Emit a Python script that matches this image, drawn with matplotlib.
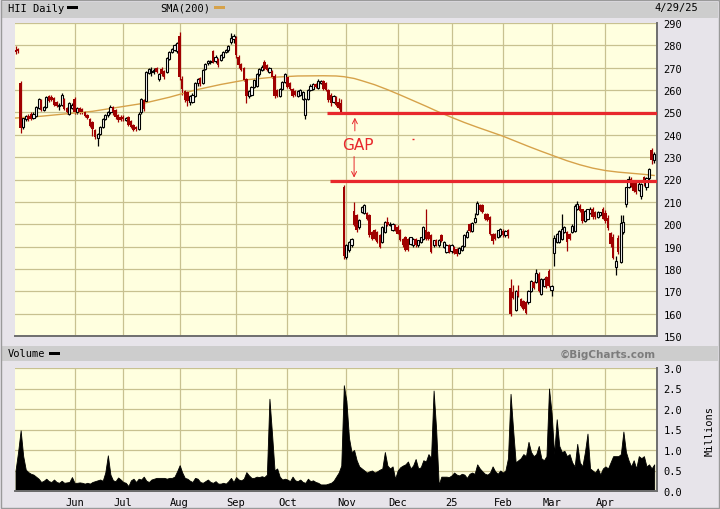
import numpy as np
import pandas as pd
import matplotlib
matplotlib.use("Agg")
import matplotlib.pyplot as plt
from matplotlib.patches import Rectangle

# trading calendar 4/30/24 - 4/29/25 (NYSE holidays removed)
holidays = ["2024-05-27", "2024-06-19", "2024-07-04", "2024-09-02", "2024-11-28",
            "2024-12-25", "2025-01-01", "2025-01-09", "2025-01-20", "2025-02-17",
            "2025-04-18"]
days = pd.bdate_range("2024-04-30", "2025-04-29")
days = days[~days.isin(pd.to_datetime(holidays))]

month_names = {6: "Jun", 7: "Jul", 8: "Aug", 9: "Sep", 10: "Oct", 11: "Nov",
               12: "Dec", 1: "25", 2: "Feb", 3: "Mar", 4: "Apr"}

# daily OHLC (one row per month)
opens = [
    278, 278.5, 263, 243.5, 247, 248.5, 249.5, 247.5, 248.5, 252, 255.5, 251, 252.5, 257.5, 257, 256.5, 254.5, 253, 253.5, 256, 252, 249.5, 252,
    256, 250, 252, 251.5, 250, 249, 247, 245.5, 242, 238.5, 240.5, 243.5, 247, 249, 250, 252.5, 251, 249, 248,
    248, 246.5, 248, 246, 244.5, 243.5, 242.5, 250, 255.5, 255, 267.5, 268, 268.5, 270, 265, 269.5, 268.5, 268, 274, 277, 278, 277.5,
    284, 265, 259.5, 259, 254.5, 254.5, 257.5, 263, 265.5, 263, 269.5, 272, 272.5, 277.5, 273, 274, 273.5, 275, 277, 278, 281.5, 283,
    283.5, 275, 271.5, 270, 265, 257.5, 258, 261.5, 262, 267, 269, 272.5, 271, 268, 268.5, 266.5, 260, 257.5, 260.5, 263.5,
    266, 263, 260.5, 259.5, 257.5, 258, 256, 249, 256, 260, 260.5, 262.5, 261, 263, 264, 263, 260, 258, 254.5, 257, 254.5, 254, 216.5,
    185.5, 188.5, 190.5, 206, 204, 198.8, 205.5, 204.8, 204.8, 204, 196.5, 197.3, 196.5, 195, 192, 196.5, 201, 199.5, 197.3, 199.5,
    198.8, 197.3, 193.5, 194.3, 193.5, 191, 190.6, 193.5, 190.6, 192, 193.5, 197.3, 196.5, 195, 190.6, 192.8, 190.6, 195, 190, 187.6, 190.6,
    187.8, 189.8, 189, 187.3, 188.3, 190.4, 194.3, 200, 197, 201, 204.6, 208.5, 208.5, 204.6, 204.6, 203.1, 195.6, 195.6, 194.5, 195,
    197, 195, 197.5, 171.5, 169.5, 161.5, 170, 166.5, 165.5, 165, 165, 170.2, 174, 174, 177.7, 168.7, 172.5, 176.5, 179,
    170.5, 187, 192, 192, 193.5, 196.5, 196.5, 195.6, 196.4, 197, 206.8, 208.3, 206.8, 201.6, 202.5, 204.8, 206.8, 205.3, 203.1, 203.9, 206.8,
    205, 203, 196, 194.5, 181, 194, 183, 196.5, 209, 216.5, 220.3, 219.5, 218.5, 215.5, 212.5, 221, 216.5, 220.5, 233, 228.5,
]
highs = [
    279.5, 279, 264, 248, 249, 249.5, 250, 250, 253, 256.5, 256, 253, 257.5, 258, 258, 257, 255, 254, 258.5, 256.5, 252.5, 254.5, 254,
    257, 252.5, 252.5, 252, 250.5, 249.5, 247.5, 246, 242.5, 241, 244, 247.5, 249.5, 250.5, 253.5, 253, 251.5, 249.5, 249,
    249, 248, 248.5, 246.5, 245, 244, 250, 256.5, 256, 268.5, 270, 270.5, 270, 270.5, 267.5, 270.5, 269, 275, 277.5, 279, 280.5, 281.5,
    286, 266.5, 260, 259.5, 258, 258.5, 263.5, 265.5, 266, 269.5, 272, 273.5, 273.5, 278, 275.5, 274.5, 276, 277.5, 278.5, 280, 285.5, 285,
    284, 275.5, 272, 270.5, 265.5, 260, 262, 265, 267.5, 270, 271, 273.5, 271.5, 270.5, 269, 267, 260.5, 261, 264, 267.5,
    266.5, 263.5, 261, 260, 260, 260.5, 259.5, 256.5, 260.5, 262.5, 263, 263, 265, 264.5, 264.5, 263.5, 260.5, 258.5, 258, 257.5, 256.5, 256, 217.5,
    191, 192.5, 194, 210, 204.5, 202.5, 208, 209, 205.5, 204.5, 197, 198, 197, 195.5, 199, 201.5, 203.3, 201, 200.5, 200,
    199.5, 197.8, 194, 194.8, 194, 194.5, 194, 194, 193, 194.5, 199, 207, 197, 195.5, 193, 193.5, 193.2, 195.5, 192.5, 191, 191,
    191, 190.2, 189.5, 189.8, 190.5, 195.5, 197.5, 200.5, 201, 205, 210.5, 209, 209, 205, 205, 203.5, 196, 196, 197.5, 198.5,
    198, 197.5, 198, 175.5, 173, 170.5, 173, 167, 166, 165.5, 170.5, 175, 174.5, 180, 178.5, 176, 176, 177, 180,
    173, 195, 196, 197.5, 204.5, 199, 197, 196, 200, 209, 210.6, 209, 207, 206.5, 207, 207.5, 207.5, 205.8, 206, 205.5, 207.5,
    206.5, 204, 196.5, 195.5, 186, 195, 204, 204, 216.8, 221.5, 221, 220, 219.5, 219, 218.5, 221.5, 221, 225, 234, 232.5,
]
lows = [
    276, 276.5, 241, 242.5, 246, 246, 246.5, 247, 248, 251.5, 250.5, 250.5, 252, 254.5, 255, 253, 252.5, 251, 253, 251, 249.5, 249, 251.5,
    249.5, 249.5, 249.5, 249.5, 248, 247, 243.5, 239.5, 238, 235, 240, 243, 246.5, 248, 249.5, 249, 247, 245.5, 246,
    246, 246, 244, 243, 241.5, 241.5, 242, 249.5, 250.5, 254.5, 267, 266.5, 267, 267.5, 264, 266.5, 265, 267.5, 273.5, 276.5, 277.5, 276.5,
    264.5, 258, 254.5, 253, 253.5, 254, 257, 262, 262, 262.5, 269, 271, 271.5, 272, 272, 270.5, 273, 274.5, 276.5, 277, 280.5, 281,
    274.5, 270, 268.5, 264, 254, 256.5, 257.5, 261, 261.5, 266.5, 268.5, 269, 268.5, 267.5, 265.5, 256.5, 257, 257, 260, 263,
    261, 260, 257, 257.5, 257, 257.5, 255.5, 247, 255.5, 259.5, 260, 261, 260.5, 262.5, 260, 259.5, 254.5, 253, 254, 253, 251.5, 249.5, 184.5,
    184.5, 187.5, 190, 199, 196.5, 198, 205, 204.5, 202, 194.5, 193, 193, 191.5, 189.5, 191.5, 196, 199, 199, 197, 197,
    195.5, 192.5, 190, 187.8, 188, 190.5, 190, 190, 190, 191.5, 193, 193, 193, 187, 190, 190.2, 190, 192, 189.5, 187, 187,
    187.3, 186.5, 186, 186.8, 187.8, 190, 194, 196.5, 196.5, 200.5, 204, 206, 205, 202, 201.5, 195, 191, 193, 194, 194.5,
    194.5, 194.5, 194, 159, 166.5, 161, 167.5, 163, 161.5, 159.8, 164.5, 169.5, 171, 173.5, 169.5, 168.2, 172, 171.5, 172,
    168, 181.5, 191.5, 191.5, 193, 196, 188, 193, 196, 196.5, 206.5, 205.5, 200.5, 201, 202, 204.5, 202.5, 202.5, 202.8, 203.5, 202.3,
    200.5, 197.5, 190, 184.5, 177.5, 186.5, 182.5, 195.5, 207.5, 216, 216.5, 214.5, 213.5, 215, 211.5, 217, 215.5, 219.5, 227, 227.5,
]
closes = [
    277, 277.5, 243, 247.5, 248.5, 247, 247, 249.5, 252.5, 256, 251, 252.5, 257, 255, 255.5, 253.5, 253, 253.5, 258, 251.5, 250, 254, 253.5,
    250, 252, 250, 250, 248.5, 247.5, 244, 242.5, 239, 240.5, 243.5, 247, 249, 250, 252.5, 250, 248, 246.5, 246.5,
    247, 247.5, 244.5, 243.5, 242, 242.5, 249.5, 256, 251.5, 268, 269.5, 268.5, 269, 268, 267, 267, 266, 274.5, 277, 278.5, 280, 281,
    266, 260.5, 255.5, 255, 257.5, 258, 263, 265, 262.5, 269, 271.5, 273, 273, 272.5, 275, 271, 275.5, 277, 278, 279.5, 283.5, 284,
    275.5, 271, 269, 264.5, 257.5, 259.5, 261.5, 264.5, 267, 269.5, 270.5, 269.5, 269, 270, 266, 257.5, 257.5, 260.5, 263.5, 267,
    261.5, 260.5, 257.5, 258, 259.5, 260, 259, 256, 260, 262, 262.5, 261.5, 264, 264, 260.5, 260, 255.5, 254, 257.5, 253.5, 252, 250, 186,
    190.5, 192, 193.5, 199.5, 197.3, 202, 207.7, 208.5, 202.5, 195, 193.5, 193.5, 192, 190, 198.8, 201, 199.5, 200.3, 200.3, 197.3,
    195.8, 192.8, 190.6, 188.3, 188.3, 194.3, 193.5, 190.6, 192.8, 194.3, 198.8, 193.5, 193.5, 187.6, 192.8, 190.6, 192.8, 192.5, 192, 190.6, 187.6,
    190.6, 187, 186.8, 189.5, 190.3, 195, 196.5, 197, 200.5, 203, 209.5, 206.3, 205.5, 202.4, 202, 195.6, 192.6, 193.5, 197.3, 197.8,
    195, 197, 195, 160, 167, 170, 168, 163.5, 162, 160.5, 170.2, 174.7, 171.5, 178.4, 170.2, 175.5, 175.5, 172.5, 172.5,
    172.5, 194, 195.6, 197, 198, 198.7, 192, 193.5, 199.4, 208.3, 209, 206, 201.6, 206, 206.8, 206.8, 203.1, 203.1, 205.6, 205.3, 202.4,
    201.5, 198.5, 191, 185, 183.5, 187.5, 200.5, 201, 216.5, 220.3, 217.3, 215, 214.3, 218, 218, 219.5, 220.5, 224.8, 228.5, 231.5,
]

# volume, millions of shares
volume = [
    0.50, 0.95, 1.48, 0.85, 0.52, 0.46, 0.42, 0.40, 0.35, 0.30, 0.22, 0.25, 0.30, 0.24, 0.22, 0.28, 0.22, 0.20, 0.25, 0.20, 0.21, 0.22, 0.34,
    0.20, 0.20, 0.21, 0.20, 0.18, 0.20, 0.18, 0.22, 0.24, 0.26, 0.28, 0.25, 0.45, 0.87, 0.40, 0.26, 0.24, 0.33, 0.28,
    0.22, 0.20, 0.12, 0.26, 0.30, 0.22, 0.30, 0.28, 0.35, 0.25, 0.22, 0.28, 0.30, 0.32, 0.32, 0.32, 0.32, 0.30, 0.32, 0.32, 0.35, 0.48,
    0.63, 0.45, 0.32, 0.30, 0.25, 0.22, 0.32, 0.30, 0.22, 0.20, 0.24, 0.28, 0.22, 0.20, 0.24, 0.18, 0.18, 0.20, 0.18, 0.24, 0.32, 0.22,
    0.34, 0.28, 0.26, 0.30, 0.46, 0.38, 0.32, 0.32, 0.35, 0.34, 0.36, 0.34, 0.40, 2.25, 1.40, 0.50, 0.55, 0.35, 0.28, 0.30,
    0.28, 0.24, 0.35, 0.26, 0.24, 0.28, 0.22, 0.20, 0.30, 0.24, 0.26, 0.22, 0.20, 0.16, 0.16, 0.16, 0.18, 0.20, 0.25, 0.35, 0.45, 0.62, 2.58,
    2.20, 1.30, 0.95, 1.00, 0.75, 0.60, 0.55, 0.50, 0.45, 0.48, 0.50, 0.45, 0.48, 0.52, 0.55, 0.95, 0.62, 0.55, 0.60, 0.30,
    0.50, 0.58, 0.62, 0.65, 0.72, 0.55, 0.62, 0.78, 0.55, 0.58, 0.75, 0.72, 0.90, 0.80, 2.45, 1.50, 0.15, 0.35, 0.35, 0.35, 0.34,
    0.38, 0.45, 0.40, 0.38, 0.42, 0.40, 0.32, 0.42, 0.45, 0.42, 0.65, 0.55, 0.48, 0.42, 0.40, 0.45, 0.60, 0.48, 0.42, 0.50,
    0.45, 0.50, 0.80, 2.37, 1.50, 0.70, 0.75, 0.80, 0.90, 0.85, 1.20, 0.95, 0.85, 0.90, 1.10, 0.80, 0.75, 0.85, 2.50,
    1.90, 0.90, 1.75, 1.10, 0.95, 0.98, 0.85, 0.90, 0.70, 0.60, 1.15, 0.70, 0.60, 0.95, 1.40, 0.55, 0.50, 0.45, 0.55, 0.40, 0.55,
    0.60, 0.55, 0.70, 0.85, 0.85, 0.85, 0.90, 1.45, 0.95, 0.75, 0.60, 0.75, 0.55, 0.85, 0.80, 0.85, 0.60, 0.65, 0.55, 0.65,
]

# 200-day SMA, read at trading-day positions along the curve
sma_idx = [0, 10, 20, 30, 40, 50, 60, 70, 80, 90, 100, 110, 120, 125, 128, 132, 135,
           140, 145, 150, 155, 160, 165, 170, 175, 180, 185, 190, 195, 200, 205, 210,
           215, 220, 225, 230, 235, 240, 245, 249]
sma_val = [247.5, 248.3, 249.4, 250.5, 252.3, 254.1, 256.8, 260.0, 262.5, 264.6, 265.7,
           266.3, 266.4, 266.3, 266.0, 265.2, 264.2, 262.4, 260.2, 257.8, 255.3, 252.8,
           250.2, 247.8, 245.5, 243.4, 241.4, 239.4, 237.1, 234.8, 232.6, 230.5, 228.4,
           226.6, 225.1, 224.0, 223.3, 222.8, 222.3, 221.8]

# gap annotation drawn on the chart
gap_top, gap_bottom = 249.7, 219.2
gap_top_start, gap_bottom_start = 121.4, 122.6
gap_arrow_x = 132.3

assert len(days) == len(opens) == len(highs) == len(lows) == len(closes) == len(volume)

BG = "#e7e4ea"
PLOT_BG = "#ffffdf"
GRID = "#c8c190"
CANDLE_RED = "#a00000"
GAP_RED = "#e8282c"
SMA_COLOR = "#d6a24a"
FRAME = "#6e6e6e"
MONO = "DejaVu Sans Mono"

x = np.arange(len(days))
o, h, l, c = map(np.array, (opens, highs, lows, closes))
vol = np.array(volume)
xlim = (-0.2, len(days) + 0.1)

month_pos = [i for i in range(1, len(days))
             if days[i].month != days[i - 1].month and days[i].month in month_names]
month_lab = [month_names[days[i].month] for i in month_pos]

fig = plt.figure(figsize=(7.2, 5.1), dpi=100)
fig.patch.set_facecolor(BG)

# header bands
fig.add_artist(Rectangle((0.003, 1 - 19 / 510), 0.994, 16 / 510, transform=fig.transFigure,
                         facecolor="#cdcdcd", edgecolor="none"))
fig.add_artist(Rectangle((0.003, 1 - 362 / 510), 0.994, 15 / 510, transform=fig.transFigure,
                         facecolor="#cdcdcd", edgecolor="none"))
fig.add_artist(Rectangle((0.001, 0.002), 0.997, 0.996, transform=fig.transFigure,
                         facecolor="none", edgecolor="#9a9a9a", lw=1))

fig.text(8 / 720, 1 - 8.5 / 510, "HII Daily", fontsize=7.5, family=MONO, va="center")
fig.add_artist(Rectangle((67 / 720, 1 - 10 / 510), 11 / 720, 3 / 510, transform=fig.transFigure,
                         facecolor="black", edgecolor="none"))
fig.text(160 / 720, 1 - 8.5 / 510, "SMA(200)", fontsize=7.5, family=MONO, va="center")
fig.add_artist(Rectangle((214 / 720, 1 - 10 / 510), 11 / 720, 3 / 510, transform=fig.transFigure,
                         facecolor=SMA_COLOR, edgecolor="none"))
fig.text(698 / 720, 1 - 8 / 510, "4/29/25", fontsize=7.5, family=MONO, va="center", ha="right")
fig.text(8 / 720, 1 - 354.5 / 510, "Volume", fontsize=7.5, family=MONO, va="center")
fig.add_artist(Rectangle((49 / 720, 1 - 356 / 510), 11 / 720, 3 / 510, transform=fig.transFigure,
                         facecolor="black", edgecolor="none"))
fig.text(656 / 720, 1 - 354.5 / 510, "\u00a9BigCharts.com", fontsize=7.5, fontweight="bold",
         color="#7c7c7c", va="center", ha="right")
fig.text(710 / 720, 1 - 431 / 510, "Millions", fontsize=7.5, family=MONO, rotation=90,
         va="center", ha="center")


def style_axes(ax):
    ax.set_facecolor(PLOT_BG)
    ax.set_xlim(*xlim)
    ax.set_xticks(month_pos)
    ax.grid(True, color=GRID, lw=0.9)
    ax.set_axisbelow(True)
    ax.yaxis.tick_right()
    ax.tick_params(length=0, labelsize=7.5, pad=4.5)
    for side in ("left", "top"):
        ax.spines[side].set_visible(False)
    for side in ("right", "bottom"):
        ax.spines[side].set_color(FRAME)
        ax.spines[side].set_linewidth(1.4)


# ---- price panel ----
ax = fig.add_axes([15 / 720, 173 / 510, 642 / 720, 313 / 510])
ax.set_ylim(150, 290)
ax.set_yticks(np.arange(150, 291, 10))
style_axes(ax)
ax.set_xticklabels([])
for lab in ax.get_yticklabels():
    lab.set_family(MONO)

up = c >= o
dn = ~up
ax.vlines(x[up], l[up], h[up], color="black", lw=0.9, zorder=2)
ax.vlines(x[dn], l[dn], h[dn], color=CANDLE_RED, lw=0.9, zorder=2)
ax.bar(x[up], np.maximum(c - o, 0.4)[up], bottom=o[up], width=0.85,
       facecolor="white", edgecolor="black", lw=0.8, zorder=3)
ax.bar(x[dn], np.maximum(o - c, 0.4)[dn], bottom=c[dn], width=0.95, color=CANDLE_RED,
       lw=0, zorder=3)

ax.plot(sma_idx, sma_val, color=SMA_COLOR, lw=1.0, zorder=2)

# gap lines + annotation
ax.hlines(gap_top, gap_top_start, xlim[1], color=GAP_RED, lw=2.3, zorder=4)
ax.hlines(gap_bottom, gap_bottom_start, xlim[1], color=GAP_RED, lw=2.3, zorder=4)
ax.annotate("", xy=(gap_arrow_x, gap_top - 0.8), xytext=(gap_arrow_x, 240.5),
            arrowprops=dict(arrowstyle="->", color=GAP_RED, lw=0.7, mutation_scale=9))
ax.annotate("", xy=(gap_arrow_x - 0.3, gap_bottom + 0.4), xytext=(gap_arrow_x - 0.3, 231.5),
            arrowprops=dict(arrowstyle="->", color=GAP_RED, lw=0.7, mutation_scale=9))
ax.text(gap_arrow_x + 1.0, 235.8, "GAP", color=GAP_RED, fontsize=11, ha="center", va="center")
ax.hlines(238.3, 154.6, 155.4, color=GAP_RED, lw=1.0)

# ---- volume panel ----
axv = fig.add_axes([15 / 720, 18 / 510, 642 / 720, 123 / 510])
axv.set_ylim(0, 3.0)
axv.set_yticks(np.arange(0, 3.01, 0.5))
axv.set_yticklabels([f"{v:.1f}" for v in np.arange(0, 3.01, 0.5)])
style_axes(axv)
axv.set_xticklabels(month_lab)
for lab in axv.get_xticklabels() + axv.get_yticklabels():
    lab.set_family(MONO)
axv.fill_between(x, 0, vol, facecolor="black", edgecolor="black", lw=0.6, zorder=2)

fig.savefig("out.png", dpi=100, facecolor=BG)
